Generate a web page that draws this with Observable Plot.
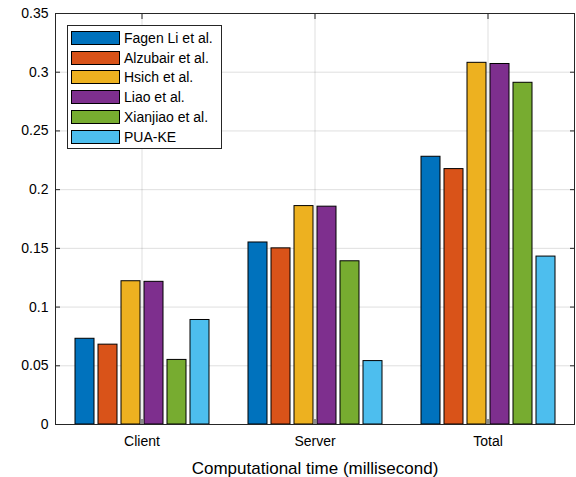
<!DOCTYPE html>
<html><head><meta charset="utf-8">
<script src="https://cdn.jsdelivr.net/npm/d3@7"></script>
<script src="https://cdn.jsdelivr.net/npm/@observablehq/plot@0.6"></script>
<style>
body{margin:0;background:#fff;}
#wrap{position:relative;width:576px;height:477px;font-family:"Liberation Sans",Arial,sans-serif;}
#legend{position:absolute;left:67px;top:25px;width:155px;height:124px;box-sizing:border-box;border:1px solid #262626;background:#fff;padding:2px 0 0 3px;}
.row{display:flex;align-items:center;height:19.8px;font-size:14px;color:#000;white-space:nowrap;}
.sw{width:49px;height:14px;box-sizing:border-box;border:1px solid #000;margin-right:4px;flex:none;}
</style></head><body><div id="wrap"></div>
<script>
const categories = ["Client", "Server", "Total"];
const seriesNames = ["Fagen Li et al.", "Alzubair et al.", "Hsich et al.", "Liao et al.", "Xianjiao et al.", "PUA-KE"];
const fagenLi  = [0.073, 0.155, 0.228];
const alzubair = [0.068, 0.150, 0.2175];
const hsich    = [0.122, 0.186, 0.308];
const liao     = [0.1215, 0.1855, 0.307];
const xianjiao = [0.055, 0.139, 0.291];
const puaKe    = [0.089, 0.054, 0.143];
const yTicks = [0, 0.05, 0.1, 0.15, 0.2, 0.25, 0.3, 0.35];
const colors = ["#0072BD", "#D95319", "#EDB120", "#7E2F8E", "#77AC30", "#4DBEEE"];
const xTitle = "Computational time (millisecond)";

const seriesValues = [fagenLi, alzubair, hsich, liao, xianjiao, puaKe];
const table = [];
categories.forEach((c, ci) => seriesNames.forEach((s, si) => table.push({category: c, series: s, value: seriesValues[si][ci]})));

const axisColor = "#262626";
const chart = Plot.plot({
  width: 576, height: 477,
  marginLeft: 54, marginRight: 2, marginTop: 13, marginBottom: 53,
  style: {fontFamily: '"Liberation Sans", Arial, sans-serif', fontSize: "14px", color: axisColor, background: "#fff", overflow: "visible"},
  fx: {domain: categories, padding: 0, label: null},
  x: {domain: seriesNames, paddingInner: 0.19, paddingOuter: 0.8, axis: null},
  y: {domain: [0, 0.35], label: null},
  color: {domain: seriesNames, range: colors},
  marks: [
    Plot.gridY(yTicks, {stroke: axisColor, strokeOpacity: 0.15, strokeWidth: 1}),
    Plot.gridFx({stroke: axisColor, strokeOpacity: 0.15, strokeWidth: 1}),
    Plot.barY(table, {fx: "category", x: "series", y: "value", fill: "series", stroke: "#000", strokeWidth: 1}),
    Plot.ruleY([0], {stroke: axisColor, strokeWidth: 1}),
    Plot.ruleY([0.35], {stroke: axisColor, strokeWidth: 1}),
    Plot.frame({anchor: "left", facetAnchor: "left", stroke: axisColor, strokeWidth: 1}),
    Plot.frame({anchor: "right", facetAnchor: "right", stroke: axisColor, strokeWidth: 1}),
    Plot.axisY(yTicks, {anchor: "left", tickSize: 0, tickPadding: 7, tickFormat: d3.format("~g"), label: null, fill: "#000"}),
    Plot.axisY(yTicks, {anchor: "left", tickSize: -5, text: null, label: null, stroke: axisColor}),
    Plot.axisY(yTicks, {anchor: "right", tickSize: -5, text: null, label: null, stroke: axisColor}),
    Plot.axisFx({anchor: "bottom", tickSize: 0, tickPadding: 12, label: null, fill: "#000"}),
    Plot.axisFx({anchor: "bottom", tickSize: 0, tickFormat: () => "", label: xTitle, labelAnchor: "center", labelOffset: 49, fontSize: 17, fill: "#000"}),
    Plot.axisFx({anchor: "bottom", tickSize: -5, text: null, label: null, stroke: axisColor}),
    Plot.axisFx({anchor: "top", tickSize: -5, text: null, label: null, stroke: axisColor})
  ]
});

const wrap = document.getElementById("wrap");
wrap.appendChild(chart);
const legend = document.createElement("div");
legend.id = "legend";
seriesNames.forEach((s, i) => {
  const row = document.createElement("div");
  row.className = "row";
  const sw = document.createElement("div");
  sw.className = "sw";
  sw.style.background = colors[i];
  const t = document.createElement("span");
  t.textContent = s;
  row.appendChild(sw); row.appendChild(t);
  legend.appendChild(row);
});
wrap.appendChild(legend);
</script></body></html>
